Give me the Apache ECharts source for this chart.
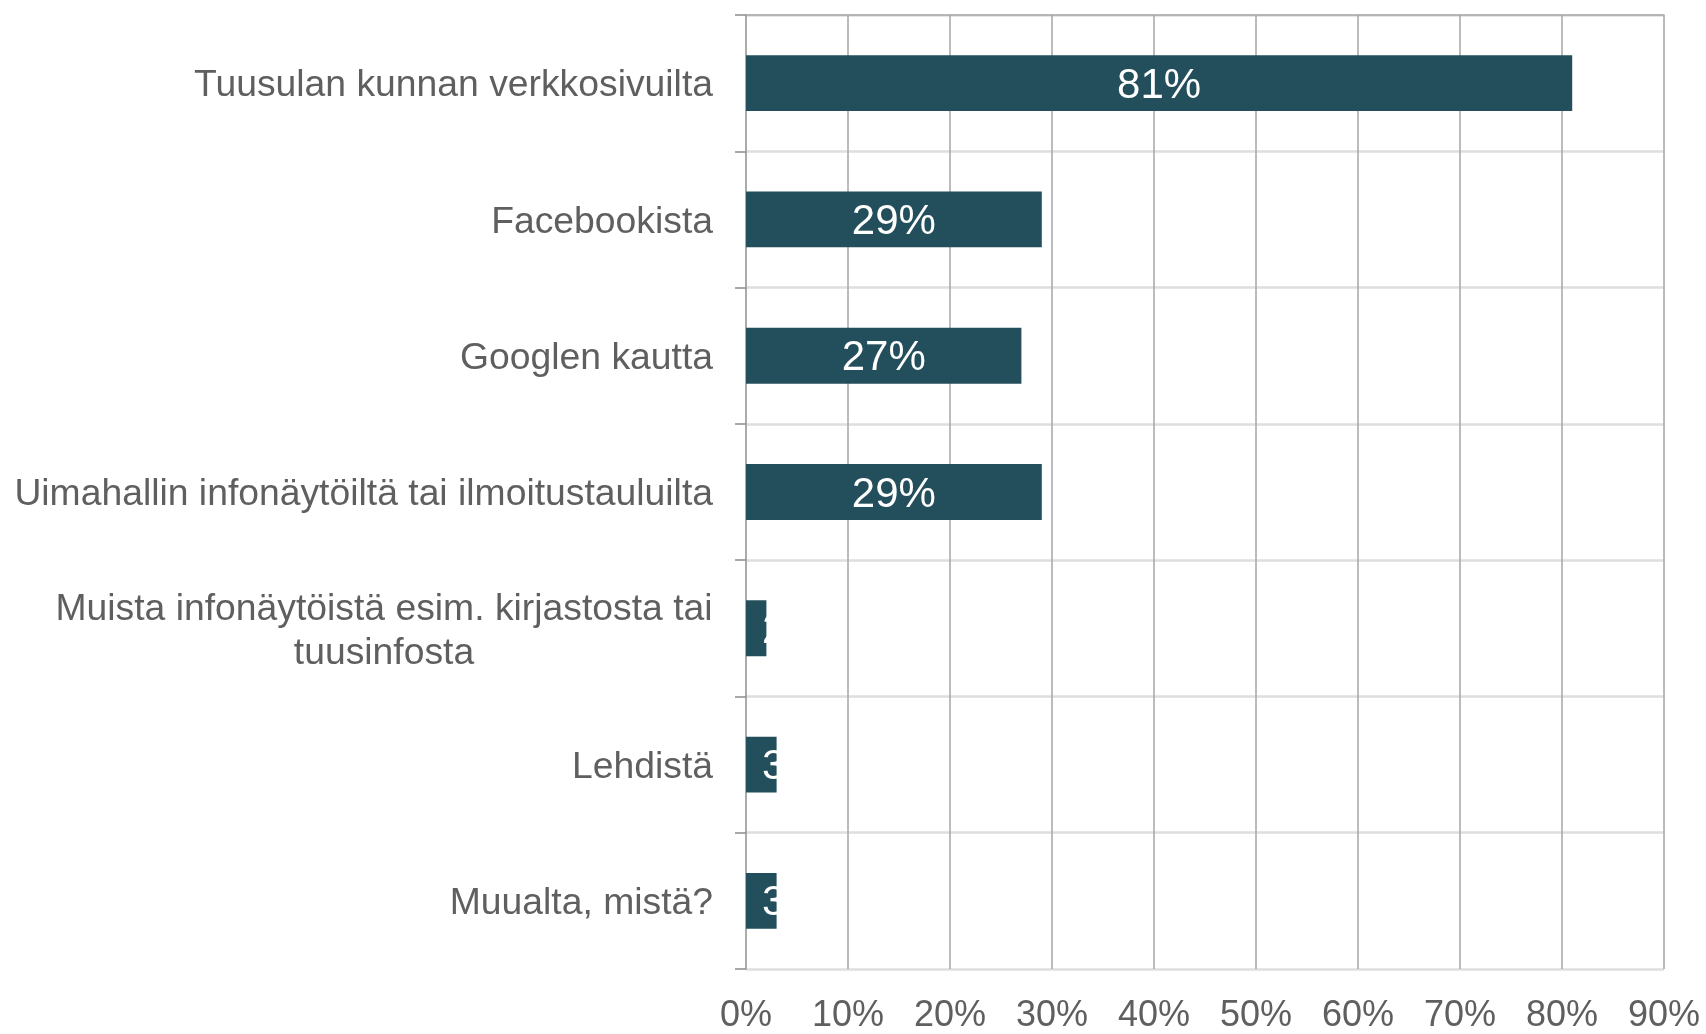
<!DOCTYPE html>
<html>
<head>
<meta charset="utf-8">
<script src="https://cdn.jsdelivr.net/npm/echarts@6/dist/echarts.min.js"></script>
<style>
  html, body { margin: 0; padding: 0; background: #fff; }
  #barChart { width: 1706px; height: 1034px; }
</style>
</head>
<body>
<div id="barChart"></div>
<script>
  // kategoriat ylhaalta alas
  var categories = [
    'Tuusulan kunnan verkkosivuilta',
    'Facebookista',
    'Googlen kautta',
    'Uimahallin infonäytöiltä tai ilmoitustauluilta',
    'Muista infonäytöistä esim. kirjastosta tai\ntuusinfosta',
    'Lehdistä',
    'Muualta, mistä?'
  ];
  var values = [81, 29, 27, 29, 2, 3, 3];
  var tickValues = [0, 10, 20, 30, 40, 50, 60, 70, 80, 90];

  var fontFam = '"Liberation Sans", Arial, sans-serif';
  var textGray = '#5f5f5f';
  var catFont = 37.3;

  // monirivisen otsikon leveys, jotta rivit saa keskitettya
  var cv = document.createElement('canvas').getContext('2d');
  cv.font = catFont + 'px ' + fontFam;
  var wrapWidth = 0;
  categories.forEach(function (c) {
    if (c.indexOf('\n') > -1) {
      c.split('\n').forEach(function (l) {
        wrapWidth = Math.max(wrapWidth, Math.ceil(cv.measureText(l).width));
      });
    }
  });

  var barData = values.map(function (v) {
    if (v < 5) {
      return { value: v, label: { position: 'insideLeft', distance: 16 } };
    }
    return v;
  });

  var chart = echarts.init(document.getElementById('barChart'));
  chart.setOption({
    backgroundColor: '#fff',
    animation: false,
    grid: { left: 746, right: 42, top: 15, bottom: 63 },
    xAxis: [{
      type: 'value',
      min: tickValues[0],
      max: tickValues[tickValues.length - 1],
      interval: 10,
      axisLine: { show: false },
      axisTick: { show: false },
      axisLabel: {
        formatter: '{value}%',
        color: textGray,
        fontSize: 36,
        fontFamily: fontFam,
        margin: 29
      },
      splitLine: { show: true, lineStyle: { color: '#a6a6a6', width: 1.5 } }
    }, {
      type: 'value',
      position: 'top',
      min: 0,
      max: 90,
      axisLine: { show: true, lineStyle: { color: '#a6a6a6', width: 1.5 } },
      axisTick: { show: false },
      axisLabel: { show: false },
      splitLine: { show: false }
    }],
    yAxis: {
      type: 'category',
      inverse: true,
      data: categories,
      axisLine: { show: true, lineStyle: { color: '#a6a6a6', width: 1.5 } },
      axisTick: { show: true, length: 11, lineStyle: { color: '#8c8c8c', width: 1.5 } },
      splitLine: { show: true, lineStyle: { color: '#dedede', width: 2.5 } },
      axisLabel: {
        color: textGray,
        fontSize: catFont,
        fontFamily: fontFam,
        margin: 33,
        lineHeight: 44,
        padding: [6, 0, 0, 0],
        formatter: function (val) {
          if (val.indexOf('\n') > -1) {
            return val.split('\n').map(function (l) { return '{w|' + l + '}'; }).join('\n');
          }
          return val;
        },
        rich: {
          w: {
            width: wrapWidth,
            align: 'center',
            color: textGray,
            fontSize: catFont,
            fontFamily: fontFam,
            lineHeight: 44
          }
        }
      }
    },
    series: [{
      type: 'bar',
      xAxisIndex: 0,
      barWidth: '41%',
      itemStyle: { color: '#234e5b' },
      label: {
        show: true,
        position: 'inside',
        offset: [0, 3],
        formatter: '{c}%',
        color: '#fff',
        fontSize: 42,
        fontFamily: fontFam
      },
      data: barData
    }]
  });
</script>
</body>
</html>
